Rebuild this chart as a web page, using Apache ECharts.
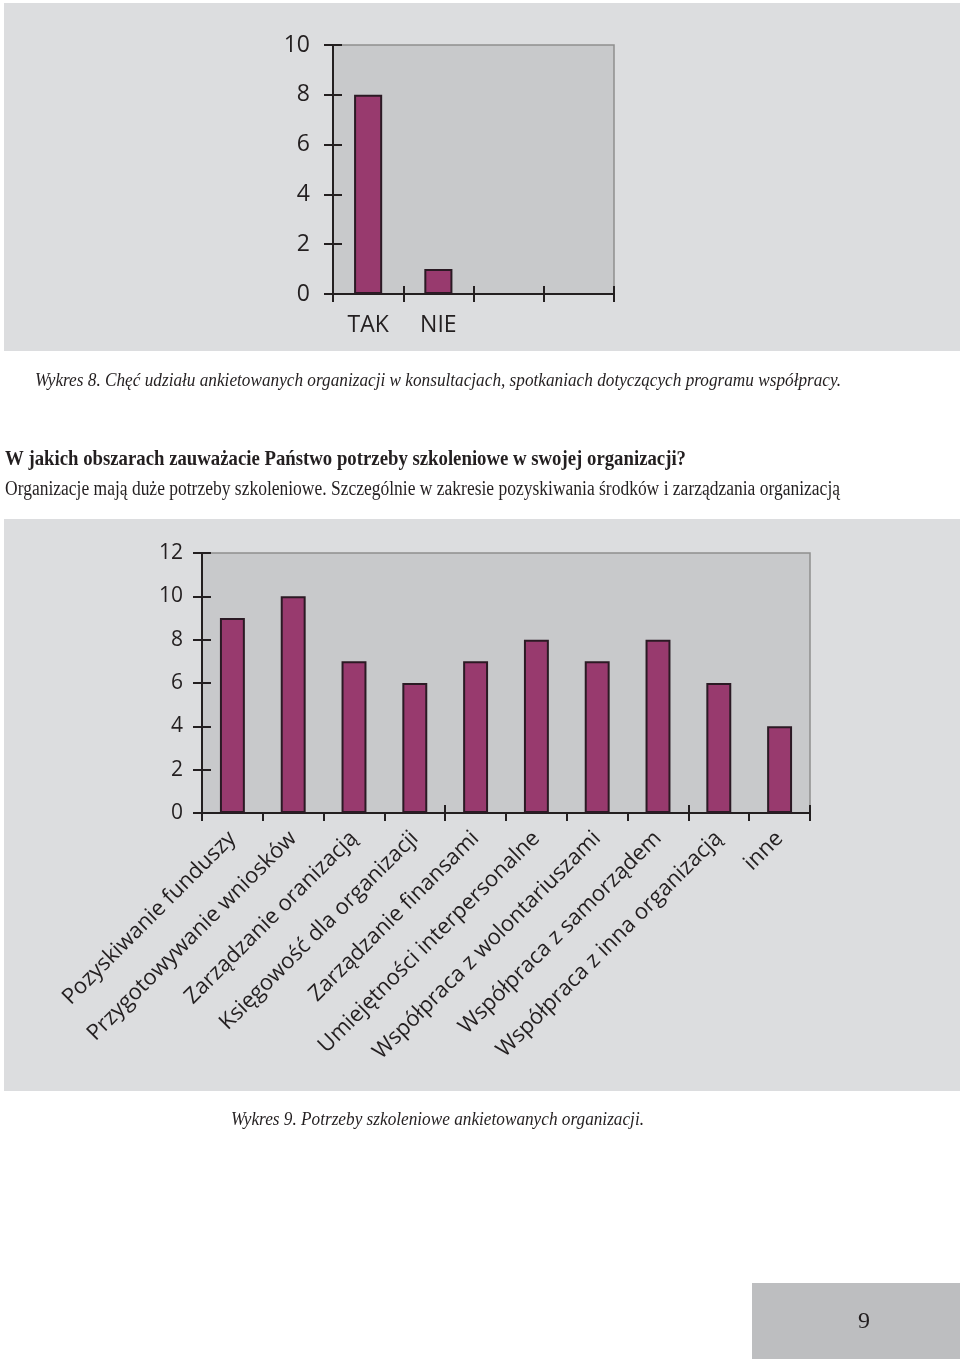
<!DOCTYPE html>
<html><head><meta charset="utf-8">
<script src="https://cdn.jsdelivr.net/npm/echarts@6/dist/echarts.min.js"></script>
<style>html,body{margin:0;padding:0;background:#fff}#c{width:960px;height:1359px}</style>
</head><body><div id="c"></div>
<script>
// ---- data ----
const cat8 = ['TAK', 'NIE', '', ''];
const val8 = [8, 1, null, null];
const yTicks8 = {min: 0, max: 10, interval: 2};

const cat9 = ['Pozyskiwanie funduszy', 'Przygotowywanie wniosków', 'Zarządzanie oranizacją',
  'Księgowość dla organizacji', 'Zarządzanie finansami', 'Umiejętności interpersonalne',
  'Współpraca z wolontariuszami', 'Współpraca z samorządem', 'Współpraca z inna organizacją', 'inne'];
const val9 = [9, 10, 7, 6, 7, 8, 7, 8, 6, 4];
const yTicks9 = {min: 0, max: 12, interval: 2};

const caption8 = 'Wykres 8. Chęć udziału ankietowanych organizacji w konsultacjach, spotkaniach dotyczących programu współpracy.';
const heading = 'W jakich obszarach zauważacie Państwo potrzeby szkoleniowe w swojej organizacji?';
const subtext = 'Organizacje mają duże potrzeby szkoleniowe. Szczególnie w zakresie pozyskiwania środków i zarządzania organizacją';
const caption9 = 'Wykres 9. Potrzeby szkoleniowe ankietowanych organizacji.';
const pageNo = '9';

// ---- helpers ----
const SERIF = '"Liberation Serif", "DejaVu Serif", serif';
const SANS = '"Open Sans", "Noto Sans", sans-serif';
const ctx = document.createElement('canvas').getContext('2d');
function measure(text, font) { ctx.font = font; return ctx.measureText(text).width; }
const TXT = '#231f20';
const BAR = '#983a6e';
const BARB = '#2b1a24';

// text drawn at a given size, squeezed horizontally to the page's measured width
function text(x, y, t, style, weight, size, target, align) {
  const font = style + ' ' + weight + ' ' + size + 'px ' + SERIF;
  const sx = target ? target / measure(t, font) : 1;
  return {type: 'text', x: x, y: y, z: 10, scaleX: sx,
    style: {text: t, fill: TXT, font: font,
      textAlign: align || 'left', textVerticalAlign: 'middle'}};
}

const chart = echarts.init(document.getElementById('c'), null, {renderer: 'canvas'});

function yAx(grid, t, inside, showLabel, size, margin) {
  return {type: 'value', gridIndex: grid, position: 'left', min: t.min, max: t.max, interval: t.interval,
    axisLine: {show: !inside, lineStyle: {color: TXT, width: 2}},
    axisTick: {show: true, inside: inside, length: 9, lineStyle: {color: TXT, width: 2}},
    axisLabel: {show: showLabel, color: TXT, fontFamily: SANS, fontSize: size, margin: margin},
    splitLine: {show: false}};
}
function xAx(grid, data, inside, label) {
  return {type: 'category', gridIndex: grid, data: data, position: 'bottom',
    axisLine: {show: !inside, onZero: false, lineStyle: {color: TXT, width: 2}},
    axisTick: {show: true, inside: inside, length: 8, alignWithLabel: false, lineStyle: {color: TXT, width: 2}},
    splitLine: {show: false}, axisLabel: label};
}

const option = {
  animation: false,
  backgroundColor: '#ffffff',
  graphic: {elements: [
    {type: 'rect', shape: {x: 4, y: 3, width: 956, height: 348}, style: {fill: '#dcdddf'}, z: -100},
    {type: 'rect', shape: {x: 4, y: 519, width: 956, height: 572}, style: {fill: '#dcdddf'}, z: -100},
    {type: 'rect', shape: {x: 752, y: 1283, width: 208, height: 76}, style: {fill: '#bdbec0'}, z: -100},
    text(35, 381, caption8, 'italic', 'normal', 19, 806),
    text(5, 460, heading, 'normal', 'bold', 21, 681),
    text(5, 490, subtext, 'normal', 'normal', 20, 835),
    text(231, 1120, caption9, 'italic', 'normal', 19, 413),
    text(864, 1322, pageNo, 'normal', 'normal', 24, 0, 'center')
  ]},
  grid: [
    {left: 333, top: 45, width: 281, height: 249, show: true, backgroundColor: '#c8c9cb', borderColor: '#8f8f8f', borderWidth: 1.5},
    {left: 202, top: 553, width: 608, height: 260, show: true, backgroundColor: '#c8c9cb', borderColor: '#8f8f8f', borderWidth: 1.5}
  ],
  xAxis: [
    xAx(0, cat8, false, {color: TXT, fontFamily: SANS, fontSize: 23, margin: 20, interval: 0}),
    xAx(0, cat8, true, {show: false}),
    xAx(1, cat9, false, {color: TXT, fontFamily: SANS, fontSize: 22, margin: 22, interval: 0, rotate: 45}),
    xAx(1, cat9, true, {show: false})
  ],
  yAxis: [
    yAx(0, yTicks8, false, true, 23, 23),
    yAx(0, yTicks8, true, false, 23, 0),
    yAx(1, yTicks9, false, true, 21, 19),
    yAx(1, yTicks9, true, false, 21, 0)
  ],
  series: [
    {type: 'bar', xAxisIndex: 0, yAxisIndex: 0, data: val8, barWidth: '40%',
      itemStyle: {color: BAR, borderColor: BARB, borderWidth: 2}},
    {type: 'bar', xAxisIndex: 2, yAxisIndex: 2, data: val9, barWidth: '41%',
      itemStyle: {color: BAR, borderColor: BARB, borderWidth: 2}}
  ]
};
chart.setOption(option);
</script></body></html>
